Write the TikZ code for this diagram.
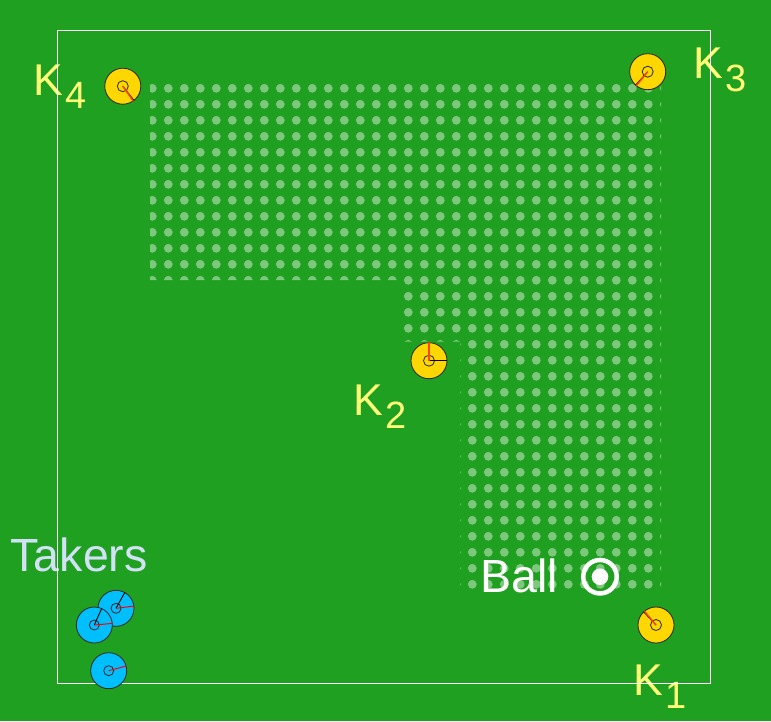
\documentclass[tikz,border=0pt]{standalone}
\usepackage{fontspec}
\setmainfont{Liberation Sans}
\usetikzlibrary{positioning}
\definecolor{pitch}{RGB}{32,160,32}
\definecolor{griddot}{RGB}{125,200,125}
\definecolor{keepfill}{RGB}{255,215,0}
\definecolor{takefill}{RGB}{0,191,255}
\definecolor{labyellow}{RGB}{255,255,120}
\definecolor{labblue}{RGB}{210,225,245}
\definecolor{headred}{RGB}{255,70,0}
\newcommand{\kidx}[1]{\hspace{2.5pt}\raisebox{-13pt}{\fontsize{38}{38}\selectfont #1}}

\begin{document}
\begin{tikzpicture}[x=1pt, y=-1pt,
  keeper/.style={circle, draw=black!85, fill=keepfill, line width=0.8pt, minimum size=36pt, inner sep=0pt},
  taker/.style={keeper, fill=takefill},
  hub/.style={draw=black!85, line width=0.8pt},
  head/.style={headred, line width=1.4pt},
  body/.style={black, line width=0.9pt},
  klab/.style={text=labyellow, font=\fontsize{44.5}{44.5}\selectfont, anchor=base west, inner sep=0pt},
  tlab/.style={font=\fontsize{46.5}{46.5}\selectfont, anchor=base west, inner sep=0pt}]
\useasboundingbox (0,0) rectangle (771,721);
\fill[pitch] (0,0) rectangle (771,721);
% region grid
\begin{scope}
\clip (150,80) rectangle (661,280) (400,280) rectangle (661,341.7) (460,341.7) rectangle (661,592);
\foreach \i in {0,...,32}
  \foreach \j in {0,...,31}
    \fill[griddot] ({152.3+16*\i},{88.3+16*\j}) circle[radius=4.4pt];
\end{scope}
% labels
\node[klab] (lab4) at (33,95) {K\kidx{4}};
\node[klab] (lab3) at (693.5,78) {K\kidx{3}};
\node[klab] (lab2) at (353.5,415) {K\kidx{2}};
\node[klab] (lab1) at (633.5,695) {K\kidx{1}};
\node[tlab, text=labblue] (takers) at (10.5,571.5) {Takers};
\node[tlab, text=white] (balltxt) at (480,592.5) {Ball};
% field
\draw[white, line width=0.8pt] (57.5,30.5) rectangle (710.5,683.5);
% keepers
\node[keeper] (k4) at (122.8,86.2) {};
\node[keeper] (k3) at (647.7,71.7) {};
\node[keeper] (k2) at (429,360.7) {};
\node[keeper] (k1) at (656,625) {};
\foreach \k/\b/\h in {k4/308/305, k3/228/231, k2/0/90, k1/133/130} {
  \draw[hub] (\k.center) circle[radius=5.5pt];
  \draw[body] (\k.center) -- (\k.\b);
  \draw[head] (\k.center) -- (\k.\h);
}
% takers
\node[taker] (ta) at (116,608.3) {};
\draw[hub] (ta.center) circle[radius=5pt];
\draw[body] (ta.center) -- (ta.61);
\draw[red, line width=1pt] (ta.center) -- (ta.7);
\node[taker] (tb) at (94.3,625) {};
\draw[hub] (tb.center) circle[radius=5pt];
\draw[body] (tb.center) -- (tb.66);
\draw[red, line width=1pt] (tb.center) -- (tb.5);
\node[taker] (tc) at (108.7,670.7) {};
\draw[hub] (tc.center) circle[radius=5pt];
\draw[red, line width=1pt] (tc.center) -- (tc.15);
% ball
\node[circle, draw=white, line width=4.5pt, minimum size=33.5pt, inner sep=0pt] (ball) at (600,576.7) {};
\fill[white] (ball.center) circle[radius=8.3pt];
\end{tikzpicture}
\end{document}
